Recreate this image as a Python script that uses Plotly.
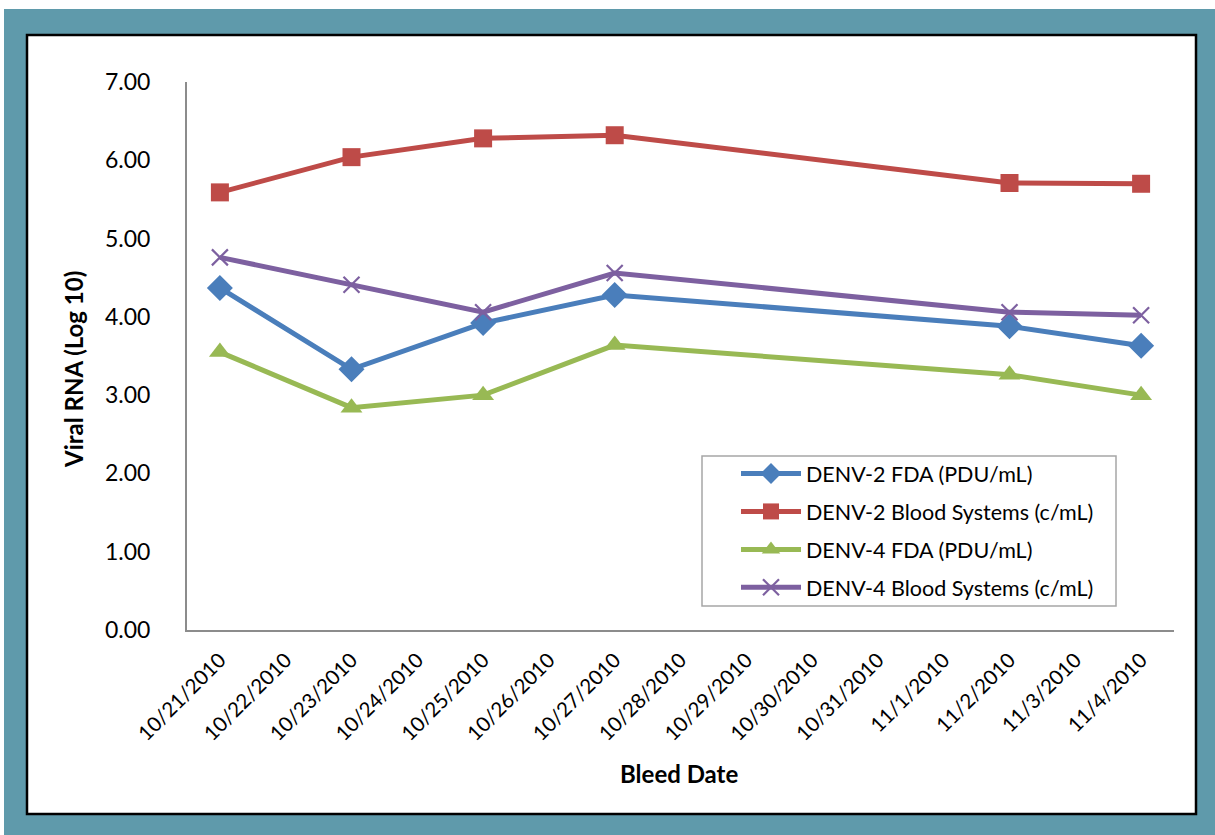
import plotly.graph_objects as go

categories = ["10/21/2010", "10/22/2010", "10/23/2010", "10/24/2010", "10/25/2010",
              "10/26/2010", "10/27/2010", "10/28/2010", "10/29/2010", "10/30/2010",
              "10/31/2010", "11/1/2010", "11/2/2010", "11/3/2010", "11/4/2010"]
bleed_dates = ["10/21/2010", "10/23/2010", "10/25/2010", "10/27/2010", "11/2/2010", "11/4/2010"]

denv2_fda = [4.37, 3.33, 3.92, 4.28, 3.88, 3.63]
denv2_bs = [5.59, 6.04, 6.28, 6.32, 5.71, 5.70]
denv4_fda = [3.55, 2.84, 3.00, 3.64, 3.26, 3.00]
denv4_bs = [4.76, 4.41, 4.06, 4.56, 4.06, 4.02]

series_names = ["DENV-2 FDA (PDU/mL)", "DENV-2 Blood Systems (c/mL)",
                "DENV-4 FDA (PDU/mL)", "DENV-4 Blood Systems (c/mL)"]
y_ticks = [0, 1, 2, 3, 4, 5, 6, 7]

FONT = "Lato"
W, H = 1215, 835
L, R, T, B = 187, 1174, 82, 630

def px(x):
    return (x - L) / (R - L)

def py(y):
    return (B - y) / (B - T)

fig = go.Figure()
styles = [
    dict(color="#4A7EBB", symbol="diamond", size=20, mline=0),
    dict(color="#BE4B48", symbol="square", size=18, mline=0),
    dict(color="#98B954", symbol="triangle-up", size=19, mline=0),
    dict(color="#7D60A0", symbol="x-thin", size=16, mline=2.2),
]
for i, (name, vals, st) in enumerate(zip(series_names, [denv2_fda, denv2_bs, denv4_fda, denv4_bs], styles)):
    fig.add_trace(go.Scatter(
        x=bleed_dates, y=vals, name=name, mode="lines+markers", legendgroup=f"g{i}",
        line=dict(color=st["color"], width=5),
        marker=dict(symbol=st["symbol"], size=st["size"], color=st["color"],
                    line=dict(color=st["color"], width=st["mline"])),
    ))

shapes = [
    dict(type="rect", xref="paper", yref="paper", x0=px(4), x1=px(1215), y0=py(835), y1=py(9),
         fillcolor="#5F9AAB", line=dict(width=0), layer="below"),
    dict(type="rect", xref="paper", yref="paper", x0=px(27), x1=px(1196), y0=py(814), y1=py(35),
         fillcolor="white", line=dict(color="black", width=2.5), layer="below"),
    # legend frame
    dict(type="rect", xref="paper", yref="paper", x0=px(702), x1=px(1116), y0=py(606), y1=py(456),
         fillcolor="white", line=dict(color="#A6A6A6", width=1.5), layer="below"),
]

fig.update_layout(
    width=W, height=H,
    margin=dict(l=L, r=W - R, t=T, b=H - B),
    paper_bgcolor="white", plot_bgcolor="rgba(0,0,0,0)",
    font=dict(family=FONT, size=21, color="black"),
    shapes=shapes,
    showlegend=True,
    legend=dict(x=px(736), y=py(453), xanchor="left", yanchor="top",
                borderwidth=0, bgcolor="rgba(0,0,0,0)",
                font=dict(family=FONT, size=21.5), itemwidth=60,
                tracegroupgap=7),
    xaxis=dict(type="category", categoryorder="array", categoryarray=categories,
               tickvals=categories, range=[-0.5, 14.5], tickangle=-45,
               showline=True, linecolor="#8C8C8C", linewidth=2, showgrid=False,
               zeroline=False, ticks="", tickfont=dict(size=20.5), ticklabelstandoff=8),
    yaxis=dict(range=[0, 7], tickvals=y_ticks, tickformat=".2f",
               showline=True, linecolor="#8C8C8C", linewidth=2, showgrid=False,
               zeroline=False, ticks="", tickfont=dict(size=23), ticklabelstandoff=30),
    annotations=[
        dict(text="<b>Viral RNA (Log 10)</b>", xref="paper", yref="paper",
             x=px(73), y=py(370), textangle=-90, showarrow=False,
             font=dict(size=24), xanchor="center", yanchor="middle"),
        dict(text="<b>Bleed Date</b>", xref="paper", yref="paper",
             x=px(679), y=py(773), showarrow=False,
             font=dict(size=24), xanchor="center", yanchor="middle"),
    ],
)

fig.write_html("out.html", config={"displayModeBar": False},
               post_script="document.body.style.margin='0';")
